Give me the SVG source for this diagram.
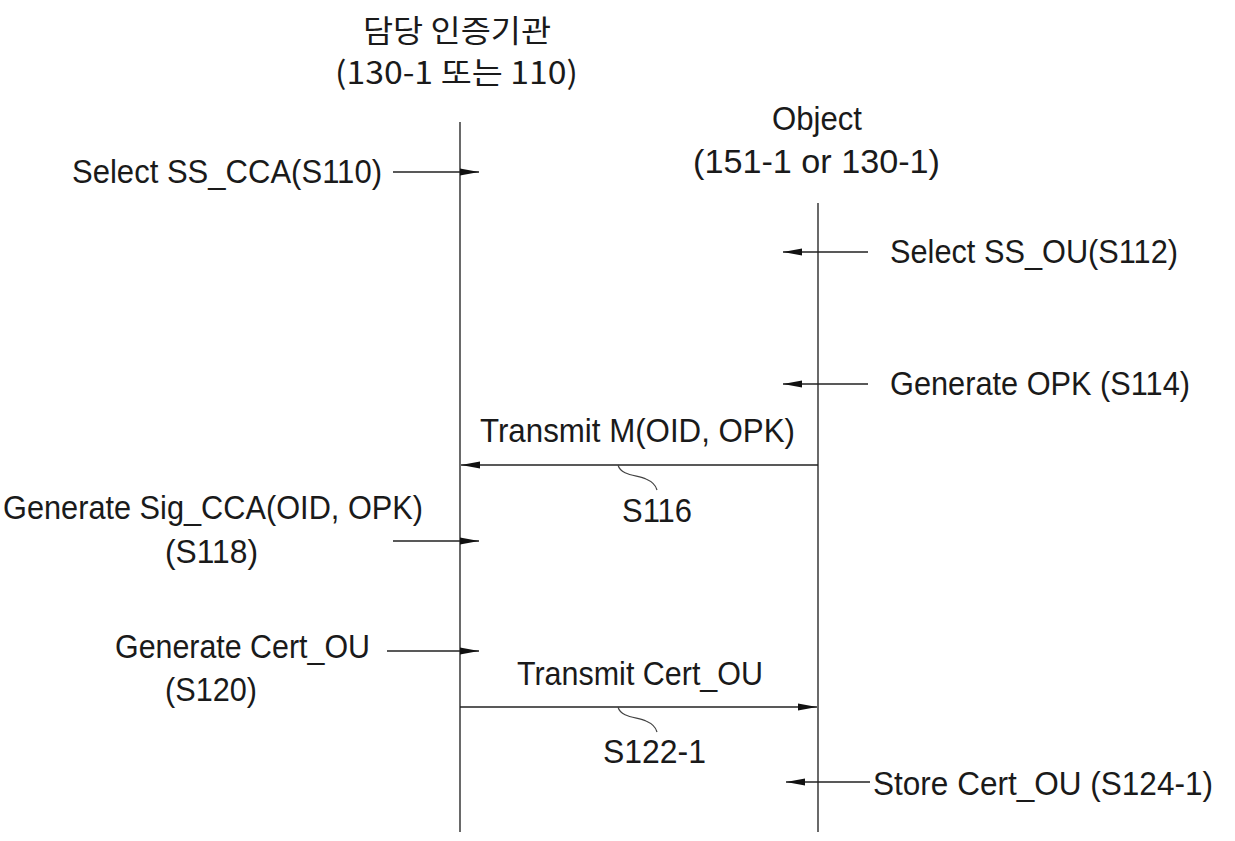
<svg xmlns="http://www.w3.org/2000/svg" width="1235" height="841" viewBox="0 0 1235 841">
<style>
text{font-family:"Liberation Sans","Noto Sans CJK KR",Arial,sans-serif;font-size:34px;fill:#1a1a1a}
.kr{font-family:"Noto Sans CJK KR","Liberation Sans",sans-serif;font-size:31px}
.ln{stroke:#444;stroke-width:1.6;fill:none}
.ar{stroke:#222;stroke-width:1.4;fill:none;marker-end:url(#ah)}
.sq{stroke:#444;stroke-width:1.2;fill:none}
</style>
<defs>
<marker id="ah" viewBox="0 0 19 8" refX="19" refY="4" markerWidth="19" markerHeight="8" markerUnits="userSpaceOnUse" orient="auto">
<path d="M0,0.6 L19,4 L0,7.4 Z" fill="#111"/>
</marker>
</defs>
<g id="authority">
<text class="kr" x="363" y="42" textLength="188" lengthAdjust="spacingAndGlyphs">담당 인증기관</text>
<text class="kr" x="335" y="84" textLength="243" lengthAdjust="spacingAndGlyphs">(130-1 또는 110)</text>
<line class="ln" x1="460" y1="122" x2="460" y2="832"/>
</g>
<g id="object">
<text x="772" y="130" textLength="90" lengthAdjust="spacingAndGlyphs">Object</text>
<text x="693" y="173" textLength="247" lengthAdjust="spacingAndGlyphs">(151-1 or 130-1)</text>
<line class="ln" x1="818" y1="203" x2="818" y2="832"/>
</g>
<g id="s110"><text x="72" y="183" textLength="310" lengthAdjust="spacingAndGlyphs">Select SS_CCA(S110)</text></g>
<g id="s112"><text x="890" y="263" textLength="288" lengthAdjust="spacingAndGlyphs">Select SS_OU(S112)</text></g>
<g id="s114"><text x="890" y="395" textLength="300" lengthAdjust="spacingAndGlyphs">Generate OPK (S114)</text></g>
<g id="s116">
<text x="480" y="442" textLength="315" lengthAdjust="spacingAndGlyphs">Transmit M(OID, OPK)</text>
<text x="622" y="522" textLength="70" lengthAdjust="spacingAndGlyphs">S116</text>
</g>
<g id="s118">
<text x="3" y="519" textLength="420" lengthAdjust="spacingAndGlyphs">Generate Sig_CCA(OID, OPK)</text>
<text x="165" y="563" textLength="93" lengthAdjust="spacingAndGlyphs">(S118)</text>
</g>
<g id="s120">
<text x="115" y="658" textLength="255" lengthAdjust="spacingAndGlyphs">Generate Cert_OU</text>
<text x="165" y="701" textLength="92" lengthAdjust="spacingAndGlyphs">(S120)</text>
</g>
<g id="s122">
<text x="517" y="685" textLength="246" lengthAdjust="spacingAndGlyphs">Transmit Cert_OU</text>
<text x="603" y="763" textLength="103" lengthAdjust="spacingAndGlyphs">S122-1</text>
</g>
<g id="s124"><text x="873" y="795" textLength="340" lengthAdjust="spacingAndGlyphs">Store Cert_OU (S124-1)</text></g>
<g id="connectors">
<line class="ar" x1="393" y1="172" x2="479" y2="172"/>
<line class="ar" x1="868" y1="252" x2="783" y2="252"/>
<line class="ar" x1="868" y1="384" x2="783" y2="384"/>
<line class="ar" x1="818" y1="465" x2="461" y2="465"/>
<line class="ar" x1="393" y1="541" x2="479" y2="541"/>
<line class="ar" x1="387" y1="651" x2="479" y2="651"/>
<line class="ar" x1="460" y1="707" x2="817" y2="707"/>
<line class="ar" x1="870" y1="782" x2="786" y2="782"/>
<path class="sq" d="M618,465 C621,476 638,475 646,479 C653,482 656,486 657,490"/>
<path class="sq" d="M618,707 C621,718 638,717 646,721 C653,724 656,728 657,732"/>
</g>
</svg>
